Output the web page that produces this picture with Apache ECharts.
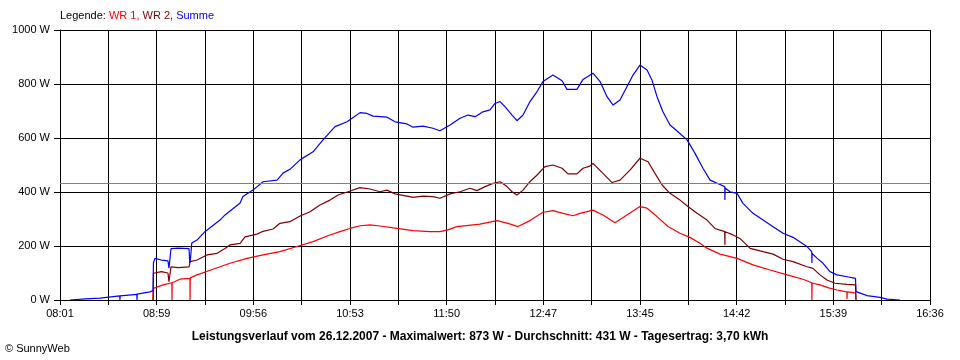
<!DOCTYPE html>
<html>
<head>
<meta charset="utf-8">
<script src="https://cdn.jsdelivr.net/npm/echarts@6/dist/echarts.min.js"></script>
<style>
html,body{margin:0;padding:0;background:#fff;}
#chart{width:960px;height:360px;}
</style>
</head>
<body>
<div id="chart"></div>
<script>
// Time values are minutes after 08:01 (axis start); power in W.
const SPAN_MINUTES = 515;      // 08:01 -> 16:36
const GRID_STEPS = 18;         // vertical grid lines
const TICK_LABELS = ['08:01','08:59','09:56','10:53','11:50','12:47','13:45','14:42','15:39','16:36'];
const Y_TICKS = [0, 200, 400, 600, 800, 1000];
const AVERAGE_W = 431;

const TITLE_TEXT = 'Leistungsverlauf vom 26.12.2007 - Maximalwert: 873 W - Durchschnitt: 431 W - Tagesertrag: 3,70 kWh';
const SERIES_NAMES = ['WR 1', 'WR 2', 'Summe'];

const wr1 = [
  [55.1,0],[55.3,43],[61.0,56],[66.2,64],[66.3,0],[66.4,64],[71.0,77],[76.9,80],[77.0,0],[77.1,82],
  [81.1,93],[90.6,114],[100.6,136],[110.7,154],[120.2,167],[130.2,179],[140.3,198],[149.8,216],
  [158.6,238],[165.7,253],[171.7,265],[177.6,275],[183.5,278],[189.4,274],[199.5,265],[209.0,257],
  [219.0,253],[224.9,253],[229.1,259],[235.0,272],[248.6,281],[258.7,294],[265.2,284],[271.1,272],
  [278.2,294],[285.9,325],[291.8,331],[297.8,321],[303.7,312],[307.8,321],[315.5,333],[321.4,315],
  [328.5,286],[335.6,315],[343.3,346],[347.5,340],[353.4,309],[359.9,272],[367.0,247],[372.9,232],
  [378.8,210],[383.0,192],[390.7,170],[400.8,154],[410.2,130],[420.3,111],[430.4,93],[439.8,77],
  [445.0,64],[445.1,0],[445.2,63],[449.9,56],[455.0,45],[460.0,37],[465.8,30],[465.9,4],[466.0,30],
  [469.4,27],[470.9,25],[471.2,0]
];

const wr2 = [
  [55.1,0],[55.3,99],[56.2,100],[60.0,105],[63.9,100],[64.5,68],[65.7,123],[70.0,120],[76.4,123],
  [77.0,142],[81.1,148],[87.0,167],[92.9,173],[97.7,191],[100.6,204],[106.6,210],[109.5,234],
  [116.6,244],[119.6,253],[126.1,263],[130.2,284],[136.1,290],[142.1,311],[148.0,327],[153.9,352],
  [159.8,370],[164.6,389],[170.5,401],[177.6,416],[183.5,411],[189.4,401],[193.6,407],[198.3,393],
  [205.4,385],[209.0,380],[214.9,385],[220.8,383],[224.9,377],[230.9,393],[236.8,401],[242.7,414],
  [246.8,405],[251.6,420],[256.3,432],[260.5,438],[264.6,420],[267.6,401],[270.5,389],[274.1,407],
  [278.2,438],[282.4,463],[287.1,494],[291.8,500],[297.2,488],[300.7,467],[306.0,467],[309.6,488],
  [313.7,496],[315.5,506],[321.4,469],[326.8,435],[331.5,444],[337.4,481],[343.3,525],[348.1,512],
  [352.2,469],[356.4,426],[361.1,395],[367.0,370],[371.7,346],[377.1,321],[383.0,296],[387.7,265],
  [393.5,253],[393.6,204],[393.7,253],[398.4,241],[402.5,228],[408.5,191],[416.2,179],[422.1,170],
  [428.0,151],[433.9,142],[442.2,123],[445.7,117],[449.9,93],[454.0,74],[458.8,62],[465.9,58],
  [470.9,56],[471.2,0]
];

const summe = [
  [5.9,0],[15.0,4],[23.7,7],[35.4,15],[35.5,0],[35.6,15],[45.5,21],[45.6,0],[45.7,22],[53.3,30],
  [55.1,35],[55.3,137],[56.2,154],[60.0,148],[63.9,145],[64.5,118],[65.7,190],[70.0,192],[76.4,190],
  [76.8,137],[77.2,150],[78.0,211],[81.1,222],[85.8,253],[94.7,296],[97.7,315],[106.6,359],
  [108.3,383],[114.2,407],[120.2,438],[128.5,444],[132.0,470],[136.1,484],[142.1,519],[149.8,549],
  [155.7,593],[162.8,642],[169.9,660],[172.9,673],[177.6,694],[181.7,691],[185.3,681],[193.6,677],
  [198.3,660],[205.4,652],[209.0,640],[214.9,644],[220.8,636],[224.9,627],[230.9,648],[236.8,673],
  [241.5,685],[245.7,679],[250.4,697],[254.5,704],[257.5,728],[260.5,735],[263.4,716],[267.6,685],
  [270.5,664],[274.1,685],[278.2,735],[282.4,772],[285.9,809],[291.8,833],[297.2,812],[300.1,780],
  [306.0,780],[309.6,817],[315.5,840],[319.7,809],[323.8,753],[327.4,722],[331.5,741],[335.6,790],
  [339.2,833],[343.3,870],[347.5,852],[350.4,815],[353.4,753],[356.9,697],[361.1,648],[365.8,623],
  [371.2,593],[375.9,543],[380.6,488],[384.8,444],[390.7,428],[393.5,420],[393.6,370],[393.7,415],
  [396.6,401],[400.8,395],[404.3,358],[410.2,321],[416.2,296],[422.1,271],[428.0,247],[433.9,232],
  [442.2,198],[445.0,179],[445.1,137],[445.2,172],[448.1,155],[451.7,136],[455.8,105],[460.0,93],
  [465.9,86],[470.9,80],[471.2,31],[475.3,22],[477.7,16],[485.4,10],[489.6,3],[497.2,0]
];

const STEP = SPAN_MINUTES / GRID_STEPS;
const toAxis = arr => arr.map(p => [p[0] / STEP, p[1]]);

const FONT = '"Liberation Sans", Arial, sans-serif';
const COLORS = ['#ff0000', '#800000', '#0000ff'];

const chart = echarts.init(document.getElementById('chart'), null, {renderer: 'canvas'});

const lineSeries = (name, data, color) => ({
  name, type: 'line', data: toAxis(data), showSymbol: false, symbol: 'none',
  lineStyle: {color, width: 1.2}, itemStyle: {color}, animation: false, silent: true
});

const option = {
  backgroundColor: '#ffffff',
  animation: false,
  grid: {left: 60, right: 30, top: 30, bottom: 60, containLabel: false, outerBoundsMode: 'none'},
  xAxis: {
    type: 'value', min: 0, max: GRID_STEPS, interval: 1,
    axisLine: {show: true, lineStyle: {color: '#000', width: 1}},
    axisTick: {show: true, length: 5, lineStyle: {color: '#000'}},
    splitLine: {show: true, lineStyle: {color: '#000', width: 1}},
    axisLabel: {
      color: '#000', fontFamily: FONT, fontSize: 11, margin: 8,
      formatter: v => { const i = Math.round(v); return i % 2 === 0 ? TICK_LABELS[i / 2] : ''; }
    }
  },
  yAxis: {
    type: 'value', min: Y_TICKS[0], max: Y_TICKS[Y_TICKS.length - 1], interval: Y_TICKS[1] - Y_TICKS[0],
    axisLine: {show: true, lineStyle: {color: '#000', width: 1}},
    axisTick: {show: true, length: 6, lineStyle: {color: '#000'}},
    splitLine: {show: true, lineStyle: {color: '#000', width: 1}},
    axisLabel: {color: '#000', fontFamily: FONT, fontSize: 11, margin: 10, formatter: v => String(v) + ' W'}
  },
  series: [
    lineSeries(SERIES_NAMES[0], wr1, COLORS[0]),
    lineSeries(SERIES_NAMES[1], wr2, COLORS[1]),
    Object.assign(lineSeries(SERIES_NAMES[2], summe, COLORS[2]), {
      markLine: {
        silent: true, symbol: 'none', animation: false,
        lineStyle: {color: '#808080', type: 'solid', width: 1},
        label: {show: false},
        data: [{yAxis: AVERAGE_W}]
      }
    })
  ],
  graphic: [
    {
      type: 'text', left: 60, top: 10,
      style: {
        text: '{k|Legende: }{a|' + SERIES_NAMES[0] + ', }{b|' + SERIES_NAMES[1] + ', }{c|' + SERIES_NAMES[2] + '}',
        font: '11px ' + FONT,
        rich: {
          k: {fill: '#000', fontSize: 11, fontFamily: FONT},
          a: {fill: COLORS[0], fontSize: 11, fontFamily: FONT},
          b: {fill: COLORS[1], fontSize: 11, fontFamily: FONT},
          c: {fill: COLORS[2], fontSize: 11, fontFamily: FONT}
        }
      }
    },
    {
      type: 'text', x: 480, y: 337,
      style: {text: TITLE_TEXT, fill: '#000', font: 'bold 12px ' + FONT, align: 'center', verticalAlign: 'middle'}
    },
    {
      type: 'text', x: 5, y: 349,
      style: {text: '\u00a9 SunnyWeb', fill: '#000', font: '11px ' + FONT, align: 'left', verticalAlign: 'middle'}
    }
  ]
};
chart.setOption(option);
</script>
</body>
</html>
